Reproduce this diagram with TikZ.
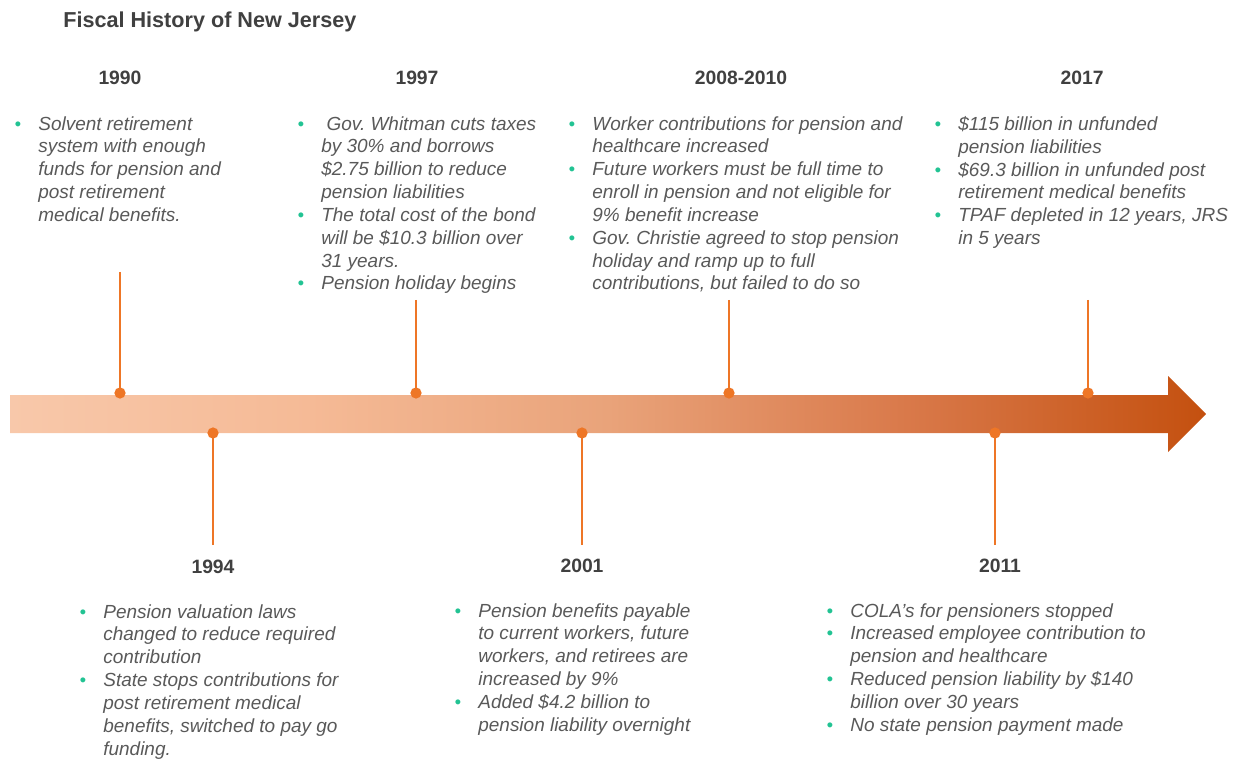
\documentclass[tikz,border=0pt]{standalone}
\usepackage{fontspec}
\setmainfont{Liberation Sans}
\usepackage{xcolor}
\frenchspacing
\definecolor{textgray}{HTML}{595959}
\definecolor{headgray}{HTML}{404040}
\definecolor{bulgreen}{HTML}{22C393}
\definecolor{lineorange}{HTML}{EE7626}
\definecolor{ca}{HTML}{F8C8AA}
\definecolor{cb}{HTML}{F5BA96}
\definecolor{cc}{HTML}{E9A37A}
\definecolor{cd}{HTML}{D9794A}
\definecolor{ce}{HTML}{C4500F}
\pgfdeclarehorizontalshading{arrowshade}{100bp}{color(0bp)=(ca); color(25bp)=(ca); color(37.5bp)=(cb); color(50bp)=(cc); color(62.5bp)=(cd); color(75bp)=(ce); color(100bp)=(ce)}
\newcommand\bitem{\leavevmode\llap{\textcolor{bulgreen}{\fontsize{10.5}{10}\selectfont\textbullet}\hspace{9.8pt}}}
\tikzset{
  body/.style={anchor=north west, inner sep=0pt, align=left, text=textgray, font=\itshape\fontsize{10.8}{13}\selectfont},
  year/.style={inner sep=0pt, text=headgray, font=\bfseries\fontsize{11}{13}\selectfont},
  dot/.style={circle, fill=lineorange, inner sep=0pt, minimum size=6.4pt},
  stem/.style={draw=lineorange, line width=1.15pt}
}
\begin{document}
\begin{tikzpicture}[x=0.02cm, y=-0.02cm]
\useasboundingbox (0,0) rectangle (1241,760);
% arrow
\path[shading=arrowshade] (10,395) -- (1168,395) -- (1168,376) -- (1206,414) -- (1168,452) -- (1168,433) -- (10,433) -- cycle;
% title
\node[anchor=west, inner sep=0pt, text=headgray, font=\bfseries\fontsize{12.3}{14}\selectfont] (title) at (63,22) {Fiscal History of New Jersey};
% years
\node[year] (y1990) at (120,78) {1990};
\node[year] (y1997) at (417,78) {1997};
\node[year] (y2008) at (741,78) {2008-2010};
\node[year] (y2017) at (1082,78) {2017};
\node[year] (y1994) at (213,567) {1994};
\node[year] (y2001) at (582,566) {2001};
\node[year] (y2011) at (1000,566) {2011};
% stems
\coordinate (t1990) at (120,272);
\coordinate (t1997) at (416,300);
\coordinate (t2008) at (729,300);
\coordinate (t2017) at (1088,300);
\coordinate (b1994) at (213,545);
\coordinate (b2001) at (582,545);
\coordinate (b2011) at (995,545);
\node[dot] (d1990) at (120,393) {};
\node[dot] (d1997) at (416,393) {};
\node[dot] (d2008) at (729,393) {};
\node[dot] (d2017) at (1088,393) {};
\node[dot] (d1994) at (213,433) {};
\node[dot] (d2001) at (582,433) {};
\node[dot] (d2011) at (995,433) {};
\draw[stem] (t1990) -- (d1990.center);
\draw[stem] (t1997) -- (d1997.center);
\draw[stem] (t2008) -- (d2008.center);
\draw[stem] (t2017) -- (d2017.center);
\draw[stem] (b1994) -- (d1994.center);
\draw[stem] (b2001) -- (d2001.center);
\draw[stem] (b2011) -- (d2011.center);
% texts
\node[body] (x1990) at (38,116) {\bitem Solvent retirement\\system with enough\\funds for pension and\\post retirement\\medical benefits.};
\node[body] (x1997) at (321,116) {\bitem\ Gov. Whitman cuts taxes\\by 30\% and borrows\\\$2.75 billion to reduce\\pension liabilities\\\bitem The total cost of the bond\\will be \$10.3 billion over\\31 years.\\\bitem Pension holiday begins};
\node[body] (x2008) at (592,116) {\bitem Worker contributions for pension and\\healthcare increased\\\bitem Future workers must be full time to\\enroll in pension and not eligible for\\9\% benefit increase\\\bitem Gov. Christie agreed to stop pension\\holiday and ramp up to full\\contributions, but failed to do so};
\node[body] (x2017) at (958,116) {\bitem \$115 billion in unfunded\\pension liabilities\\\bitem \$69.3 billion in unfunded post\\retirement medical benefits\\\bitem TPAF depleted in 12 years, JRS\\in 5 years};
\node[body] (x1994) at (103,604) {\bitem Pension valuation laws\\changed to reduce required\\contribution\\\bitem State stops contributions for\\post retirement medical\\benefits, switched to pay go\\funding.};
\node[body] (x2001) at (478,603) {\bitem Pension benefits payable\\to current workers, future\\workers, and retirees are\\increased by 9\%\\\bitem Added \$4.2 billion to\\pension liability overnight};
\node[body] (x2011) at (850,603) {\bitem COLA’s for pensioners stopped\\\bitem Increased employee contribution to\\pension and healthcare\\\bitem Reduced pension liability by \$140\\billion over 30 years\\\bitem No state pension payment made};
\end{tikzpicture}
\end{document}
